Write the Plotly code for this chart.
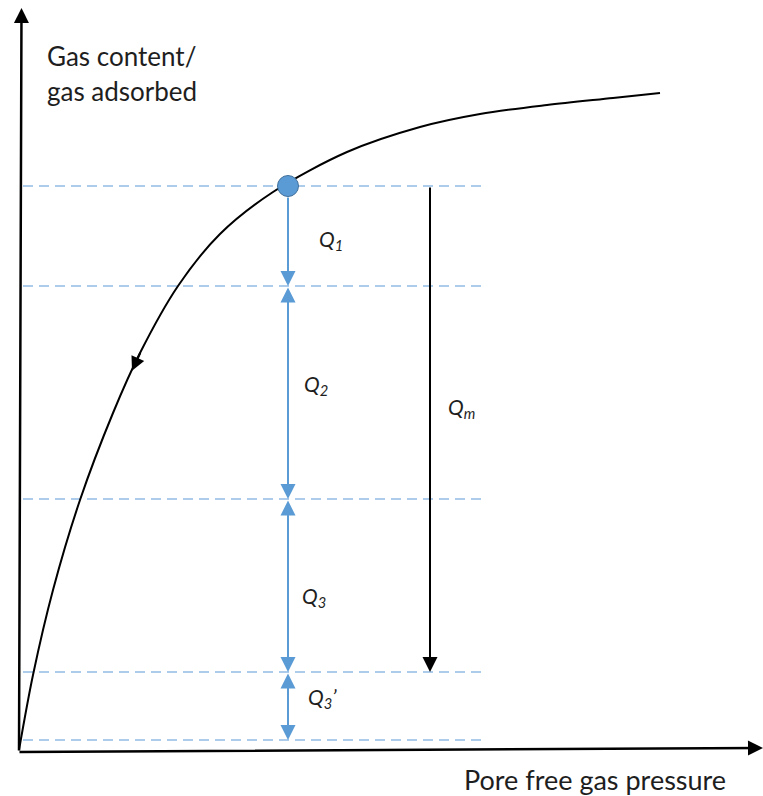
import numpy as np
import plotly.graph_objects as go

# ---- data (schematic units: pressure on x, gas content on y) ----
curve_pressure = [0, 14, 34, 61, 94, 121, 159, 201, 254, 328, 401, 461, 528, 594, 641]
curve_content = [-2, 73, 158, 248, 335, 395, 462, 514, 556, 596, 621, 634, 643, 650, 655]

start_point = (269, 562)          # reservoir state marked by the dot
levels = [562, 462, 249, 76, 8]   # gas-content levels (dashed lines)
level_span = [4, 466]
qm_pressure = 411
flow_arrow_at = 113               # pressure where the desorption-direction arrow sits

segment_labels = ["<i>Q<sub>1</sub></i>", "<i>Q<sub>2</sub></i>",
                  "<i>Q<sub>3</sub></i>", "<i>Q<sub>3</sub>’</i>"]
segment_label_x = [312, 297, 295, 303]
segment_label_y = [508, 363, 151, 50]
qm_label = "<i>Q<sub>m</sub></i>"
qm_label_pos = (442, 340)

y_title = ["Gas content/", "gas adsorbed"]
x_title = "Pore free gas pressure"

BLUE = "#5B9BD5"
DASH_BLUE = "#92BAE3"
FONT = "Lato"
TXT = "#1e1e1e"

fig = go.Figure()

# dashed level lines
for lv in levels:
    fig.add_trace(go.Scatter(x=level_span, y=[lv, lv], mode="lines",
                             line=dict(color=DASH_BLUE, width=1.6, dash="10px,6px"),
                             hoverinfo="skip", showlegend=False))

# isotherm curve
fig.add_trace(go.Scatter(x=curve_pressure, y=curve_content, mode="lines",
                         line=dict(color="black", width=2, shape="spline", smoothing=0.9),
                         hoverinfo="skip", showlegend=False))

# start point
fig.add_trace(go.Scatter(x=[start_point[0]], y=[start_point[1]], mode="markers",
                         marker=dict(size=21, color=BLUE, line=dict(color="#41719C", width=1)),
                         hoverinfo="skip", showlegend=False))

ann = []


def arrow(x0, y0, x1, y1, color, width, size, head=2, both=False, startstandoff=0):
    d = dict(x=x1, y=y1, ax=x0, ay=y0, xref="x", yref="y", axref="x", ayref="y",
             text="", showarrow=True, arrowhead=head, arrowsize=size, arrowwidth=width,
             arrowcolor=color, standoff=0, startstandoff=startstandoff)
    if both:
        d.update(arrowside="end+start", startarrowhead=head, startarrowsize=size)
    ann.append(d)


# axes
arrow(-1, -4, 744, 0, "black", 2.5, 1.2)
arrow(0, -4, 2.5, 740, "black", 2.5, 1.2)

# blue segment arrows
arrow(start_point[0], levels[0], start_point[0], levels[1], BLUE, 2, 1.5, startstandoff=10)
for i in range(1, len(levels) - 1):
    arrow(start_point[0], levels[i], start_point[0], levels[i + 1], BLUE, 2, 1.5, both=True)

# Qm arrow
arrow(qm_pressure, levels[0], qm_pressure, levels[3], "black", 2, 1.5)

# direction arrow on the curve (pointing back toward the origin)
tip_y = float(np.interp(flow_arrow_at, curve_pressure, curve_content))
tail_x = flow_arrow_at + 9
tail_y = float(np.interp(tail_x, curve_pressure, curve_content))
arrow(tail_x, tail_y, flow_arrow_at, tip_y, "black", 2, 1.4)

# labels
for t, x, y in zip(segment_labels, segment_label_x, segment_label_y):
    ann.append(dict(x=x, y=y, xref="x", yref="y", text=t, showarrow=False,
                    font=dict(family=FONT, size=21, color=TXT)))
ann.append(dict(x=qm_label_pos[0], y=qm_label_pos[1], xref="x", yref="y", text=qm_label,
                showarrow=False, font=dict(family=FONT, size=21, color=TXT)))

ann.append(dict(x=26, y=692, xref="x", yref="y", text=y_title[0], showarrow=False,
                xanchor="left", yanchor="middle", font=dict(family=FONT, size=26, color=TXT)))
ann.append(dict(x=26, y=657, xref="x", yref="y", text=y_title[1], showarrow=False,
                xanchor="left", yanchor="middle", font=dict(family=FONT, size=26, color=TXT)))
ann.append(dict(x=576, y=-31, xref="x", yref="y", text=x_title, showarrow=False,
                xanchor="center", yanchor="middle", font=dict(family=FONT, size=27, color=TXT)))

fig.update_layout(
    width=763, height=796,
    margin=dict(l=0, r=0, t=0, b=0),
    paper_bgcolor="white", plot_bgcolor="white",
    xaxis=dict(range=[-19, 744], visible=False, fixedrange=True),
    yaxis=dict(range=[-48, 748], visible=False, fixedrange=True),
    annotations=ann,
    showlegend=False,
)

fig.write_html("out.html", config={"displayModeBar": False},
               post_script="document.body.style.margin='0';document.body.style.overflow='hidden';")
